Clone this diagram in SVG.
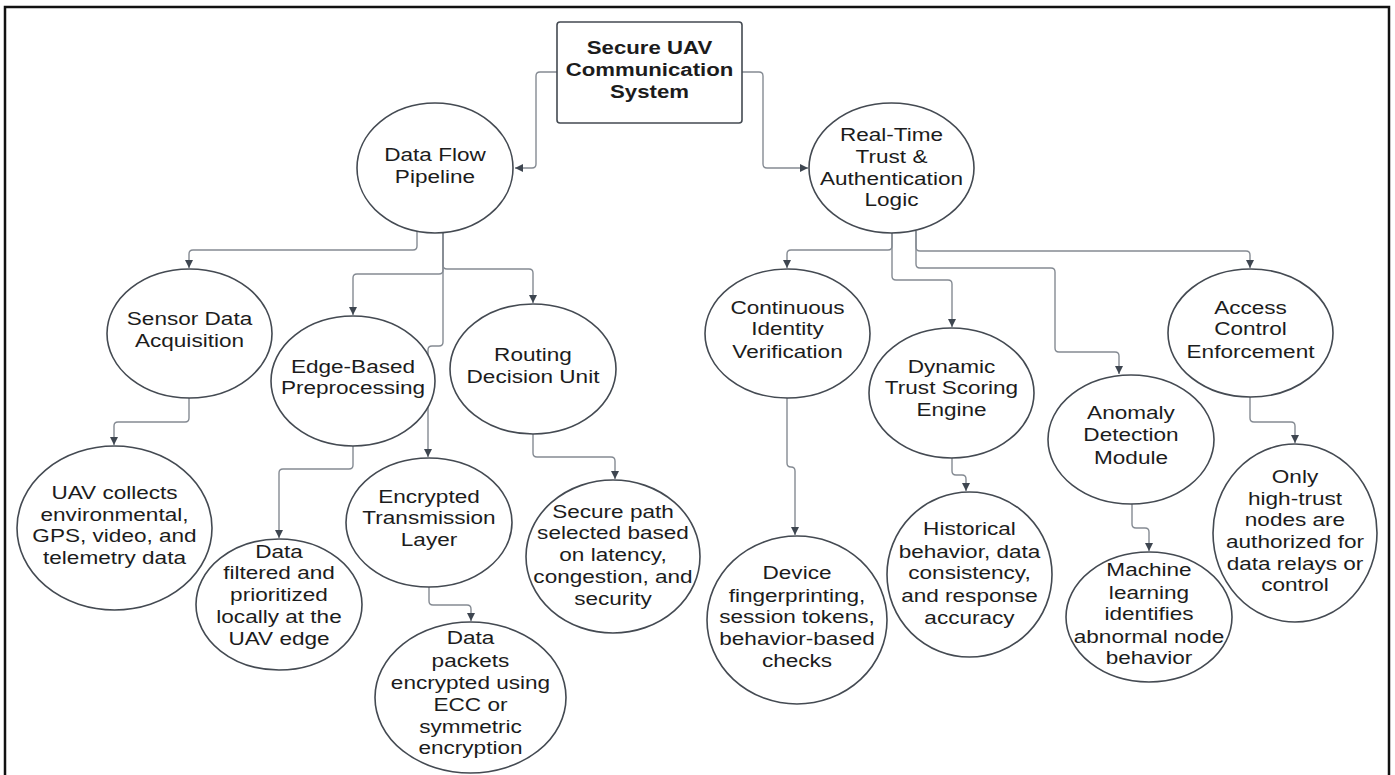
<svg xmlns="http://www.w3.org/2000/svg" width="1395" height="775" viewBox="0 0 1395 775">
<style>
.n{fill:#fff;stroke:#444a52;stroke-width:1.6}
.t{font-family:"Liberation Sans",Arial,sans-serif;font-size:18.5px;fill:#1c1c1c;text-anchor:middle}
.b{font-weight:bold}
.c{fill:none;stroke:#858b93;stroke-width:1.4}
</style>
<defs>
<marker id="ah" markerUnits="userSpaceOnUse" markerWidth="10" markerHeight="10" viewBox="0 0 10 10" refX="9" refY="5" orient="auto">
<path d="M1,1 L9,5 L1,9 Z" fill="#3e4650"/>
</marker>
</defs>
<rect x="0" y="0" width="1395" height="775" fill="#fff"/>
<path d="M5,790 V7 H1389 V790" fill="none" stroke="#111" stroke-width="2.5"/>

<g id="connectors">
<path class="c" marker-end="url(#ah)" d="M557,72 H540 Q536,72 536,76 V164 Q536,168 532,168 H515"/>
<path class="c" marker-end="url(#ah)" d="M742,72 H759 Q763,72 763,76 V164 Q763,168 767,168 H808"/>
<path class="c" marker-end="url(#ah)" d="M417,231 V246 Q417,250 413,250 H193 Q189,250 189,254 V268"/>
<path class="c" marker-end="url(#ah)" d="M443,232 V270 Q443,274 439,274 H357 Q353,274 353,278 V315"/>
<path class="c" marker-end="url(#ah)" d="M443,232 V265 Q443,269 447,269 H529 Q533,269 533,273 V303"/>
<path class="c" marker-end="url(#ah)" d="M443,232 V342 Q443,346 439,346 H432 Q428,346 428,350 V457"/>
<path class="c" marker-end="url(#ah)" d="M189,398 V418 Q189,422 185,422 H118 Q114,422 114,426 V445"/>
<path class="c" marker-end="url(#ah)" d="M353,446 V465 Q353,469 349,469 H283 Q279,469 279,473 V538"/>
<path class="c" marker-end="url(#ah)" d="M429,587 V601 Q429,605 433,605 H467 Q471,605 471,609 V621"/>
<path class="c" marker-end="url(#ah)" d="M533,434 V453 Q533,457 537,457 H611 Q615,457 615,461 V479"/>
<path class="c" marker-end="url(#ah)" d="M892,233 V246 Q892,250 888,250 H791 Q787,250 787,254 V268"/>
<path class="c" marker-end="url(#ah)" d="M892,233 V276 Q892,280 896,280 H948 Q952,280 952,284 V327"/>
<path class="c" marker-end="url(#ah)" d="M916,231 V247 Q916,251 920,251 H1246 Q1250,251 1250,255 V268"/>
<path class="c" marker-end="url(#ah)" d="M916,231 V264 Q916,268 920,268 H1051 Q1055,268 1055,272 V348 Q1055,352 1059,352 H1115 Q1119,352 1119,356 V374"/>
<path class="c" marker-end="url(#ah)" d="M787,398 V463 Q787,467 791,467 Q795,467 795,471 V535"/>
<path class="c" marker-end="url(#ah)" d="M952,458 V471 Q952,475 956,475 H962 Q966,475 966,479 V491"/>
<path class="c" marker-end="url(#ah)" d="M1250,397 V418 Q1250,422 1254,422 H1291 Q1295,422 1295,426 V443"/>
<path class="c" marker-end="url(#ah)" d="M1132,504 V524 Q1132,528 1136,528 H1145 Q1149,528 1149,532 V551"/>
</g>

<g id="root">
<rect class="n" x="557" y="22" width="185" height="101" rx="3"/>
<text class="t b" transform="translate(649.5,0) scale(1.2,1)"><tspan x="0" y="54.5">Secure UAV</tspan><tspan x="0" y="76.5">Communication</tspan><tspan x="0" y="98.5">System</tspan></text>
</g>

<g id="dataflow">
<ellipse class="n" cx="435" cy="168" rx="78" ry="65"/>
<text class="t" transform="translate(435,0) scale(1.22,1)"><tspan x="0" y="161.5">Data Flow</tspan><tspan x="0" y="183">Pipeline</tspan></text>
</g>

<g id="realtime">
<ellipse class="n" cx="891.5" cy="168" rx="82.5" ry="65"/>
<text class="t" transform="translate(891.5,0) scale(1.22,1)"><tspan x="0" y="141.5">Real-Time</tspan><tspan x="0" y="163.5">Trust &amp;</tspan><tspan x="0" y="185">Authentication</tspan><tspan x="0" y="206.5">Logic</tspan></text>
</g>

<g id="sensor">
<ellipse class="n" cx="189.5" cy="333.5" rx="82.5" ry="64.5"/>
<text class="t" transform="translate(189.5,0) scale(1.22,1)"><tspan x="0" y="325.5">Sensor Data</tspan><tspan x="0" y="347.5">Acquisition</tspan></text>
</g>

<g id="edge">
<ellipse class="n" cx="353" cy="381" rx="82" ry="65"/>
<text class="t" transform="translate(353,0) scale(1.22,1)"><tspan x="0" y="373">Edge-Based</tspan><tspan x="0" y="394.5">Preprocessing</tspan></text>
</g>

<g id="routing">
<ellipse class="n" cx="533" cy="369" rx="83" ry="65"/>
<text class="t" transform="translate(533,0) scale(1.22,1)"><tspan x="0" y="361.5">Routing</tspan><tspan x="0" y="383.5">Decision Unit</tspan></text>
</g>

<g id="uav">
<ellipse class="n" cx="114.5" cy="528" rx="97.5" ry="82"/>
<text class="t" transform="translate(114.5,0) scale(1.22,1)"><tspan x="0" y="499.5">UAV collects</tspan><tspan x="0" y="521">environmental,</tspan><tspan x="0" y="542.5">GPS, video, and</tspan><tspan x="0" y="564">telemetry data</tspan></text>
</g>

<g id="filtered">
<ellipse class="n" cx="279" cy="604.5" rx="83" ry="65.5"/>
<text class="t" transform="translate(279,0) scale(1.22,1)"><tspan x="0" y="558.5">Data</tspan><tspan x="0" y="579.5">filtered and</tspan><tspan x="0" y="601.5">prioritized</tspan><tspan x="0" y="623.5">locally at the</tspan><tspan x="0" y="645.5">UAV edge</tspan></text>
</g>

<g id="encrypted">
<ellipse class="n" cx="429" cy="522.5" rx="83" ry="64.5"/>
<text class="t" transform="translate(429,0) scale(1.22,1)"><tspan x="0" y="503.5">Encrypted</tspan><tspan x="0" y="524.5">Transmission</tspan><tspan x="0" y="546.5">Layer</tspan></text>
</g>

<g id="packets">
<ellipse class="n" cx="470.5" cy="697.5" rx="95.5" ry="75.5"/>
<text class="t" transform="translate(470.5,0) scale(1.22,1)"><tspan x="0" y="644.5">Data</tspan><tspan x="0" y="667">packets</tspan><tspan x="0" y="689">encrypted using</tspan><tspan x="0" y="711">ECC or</tspan><tspan x="0" y="733">symmetric</tspan><tspan x="0" y="754.5">encryption</tspan></text>
</g>

<g id="secure">
<ellipse class="n" cx="613" cy="556.5" rx="87" ry="76.5"/>
<text class="t" transform="translate(613,0) scale(1.22,1)"><tspan x="0" y="518.5">Secure path</tspan><tspan x="0" y="539.5">selected based</tspan><tspan x="0" y="561.5">on latency,</tspan><tspan x="0" y="583.5">congestion, and</tspan><tspan x="0" y="605.5">security</tspan></text>
</g>

<g id="continuous">
<ellipse class="n" cx="787.5" cy="333.5" rx="82.5" ry="64.5"/>
<text class="t" transform="translate(787.5,0) scale(1.22,1)"><tspan x="0" y="314.5">Continuous</tspan><tspan x="0" y="335.5">Identity</tspan><tspan x="0" y="358">Verification</tspan></text>
</g>

<g id="dynamic">
<ellipse class="n" cx="951.5" cy="393" rx="82.5" ry="65"/>
<text class="t" transform="translate(951.5,0) scale(1.22,1)"><tspan x="0" y="373.5">Dynamic</tspan><tspan x="0" y="394.5">Trust Scoring</tspan><tspan x="0" y="416.5">Engine</tspan></text>
</g>

<g id="access">
<ellipse class="n" cx="1250.5" cy="333" rx="82.5" ry="64"/>
<text class="t" transform="translate(1250.5,0) scale(1.22,1)"><tspan x="0" y="314.5">Access</tspan><tspan x="0" y="335.5">Control</tspan><tspan x="0" y="358">Enforcement</tspan></text>
</g>

<g id="anomaly">
<ellipse class="n" cx="1131" cy="439.5" rx="83" ry="64.5"/>
<text class="t" transform="translate(1131,0) scale(1.22,1)"><tspan x="0" y="419.5">Anomaly</tspan><tspan x="0" y="441.5">Detection</tspan><tspan x="0" y="464">Module</tspan></text>
</g>

<g id="device">
<ellipse class="n" cx="797" cy="620" rx="90" ry="84"/>
<text class="t" transform="translate(797,0) scale(1.22,1)"><tspan x="0" y="579.5">Device</tspan><tspan x="0" y="602">fingerprinting,</tspan><tspan x="0" y="623.5">session tokens,</tspan><tspan x="0" y="645">behavior-based</tspan><tspan x="0" y="667">checks</tspan></text>
</g>

<g id="historical">
<ellipse class="n" cx="969.5" cy="574.5" rx="82.5" ry="82.5"/>
<text class="t" transform="translate(969.5,0) scale(1.22,1)"><tspan x="0" y="535.5">Historical</tspan><tspan x="0" y="558">behavior, data</tspan><tspan x="0" y="579.5">consistency,</tspan><tspan x="0" y="602">and response</tspan><tspan x="0" y="624">accuracy</tspan></text>
</g>

<g id="machine">
<ellipse class="n" cx="1149" cy="617" rx="83" ry="65"/>
<text class="t" transform="translate(1149,0) scale(1.22,1)"><tspan x="0" y="576.5">Machine</tspan><tspan x="0" y="599">learning</tspan><tspan x="0" y="620.5">identifies</tspan><tspan x="0" y="643">abnormal node</tspan><tspan x="0" y="664.5">behavior</tspan></text>
</g>

<g id="only">
<ellipse class="n" cx="1295" cy="533" rx="82" ry="89"/>
<text class="t" transform="translate(1295,0) scale(1.22,1)"><tspan x="0" y="483.5">Only</tspan><tspan x="0" y="505">high-trust</tspan><tspan x="0" y="526.5">nodes are</tspan><tspan x="0" y="548.5">authorized for</tspan><tspan x="0" y="570">data relays or</tspan><tspan x="0" y="591.5">control</tspan></text>
</g>
</svg>
